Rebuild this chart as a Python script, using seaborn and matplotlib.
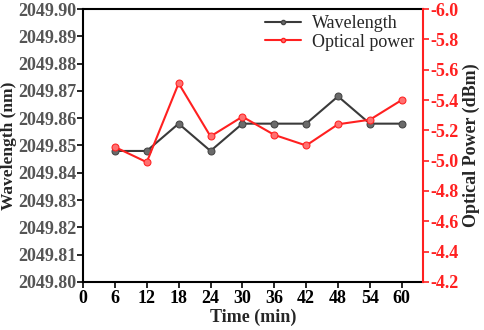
import numpy as np
import pandas as pd
import seaborn as sns
import matplotlib
matplotlib.use('Agg')
import matplotlib.pyplot as plt
from matplotlib.lines import Line2D

# data
time_min = [6, 12, 18, 24, 30, 36, 42, 48, 54, 60]
wavelength_nm = [2049.848, 2049.848, 2049.858, 2049.848, 2049.858,
                 2049.858, 2049.858, 2049.868, 2049.858, 2049.858]
optical_power_dbm = [-5.09, -4.99, -5.51, -5.16, -5.29,
                     -5.17, -5.10, -5.24, -5.27, -5.40]
x_ticks = [0, 6, 12, 18, 24, 30, 36, 42, 48, 54, 60]
wl_ticks = [2049.80, 2049.81, 2049.82, 2049.83, 2049.84, 2049.85,
            2049.86, 2049.87, 2049.88, 2049.89, 2049.90]
pw_ticks = [-4.2, -4.4, -4.6, -4.8, -5.0, -5.2, -5.4, -5.6, -5.8, -6.0]

sns.set_style('ticks')
plt.rcParams['font.family'] = ['Liberation Serif', 'DejaVu Serif']

df = pd.DataFrame({'Time': time_min, 'Wavelength': wavelength_nm,
                   'Power': optical_power_dbm})

fig = plt.figure(figsize=(4.84, 3.30), dpi=100)
ax = fig.add_axes([0.1715, 0.1455, 0.7025, 0.8272])
ax2 = ax.twinx()

black = '#3a3a3a'
red = '#ff2020'

sns.lineplot(data=df, x='Time', y='Wavelength', ax=ax, color=black,
             marker='o', markersize=5, linewidth=1.5,
             markeredgecolor='#444444', markerfacecolor='#6a6a6a')
sns.lineplot(data=df, x='Time', y='Power', ax=ax2, color=red,
             marker='o', markersize=5, linewidth=1.5,
             markeredgecolor=red, markerfacecolor='#ff7070')

ax.set_xlim(0, 64)
ax.set_ylim(2049.80, 2049.90)
ax2.set_ylim(-4.2, -6.0)
ax.set_xticks(x_ticks)
ax.set_yticks(wl_ticks)
ax2.set_yticks(pw_ticks)
ax.set_yticklabels([f'{v:.2f}' for v in wl_ticks])
ax2.set_yticklabels([f'{v:.1f}' for v in pw_ticks])

fs = 13
ax.set_xlabel('Time (min)', fontsize=fs, fontweight='bold', labelpad=1)
ax.set_ylabel('Wavelength (nm)', fontsize=12.5, fontweight='bold', labelpad=0)
ax.yaxis.set_label_coords(-0.193, 0.5)
ax2.set_ylabel('Optical Power (dBm)', fontsize=fs, fontweight='bold', labelpad=3)

ax.tick_params(axis='x', labelsize=fs, length=4, width=1.2, colors='black', pad=2)
ax.tick_params(axis='y', labelsize=fs, length=4, width=1.2, colors='black',
               labelcolor='#555555', pad=1)
ax2.tick_params(axis='y', labelsize=fs, length=4, width=1.2, colors=red,
                labelcolor=red, pad=1)
for lab in ax.get_xticklabels() + ax.get_yticklabels() + ax2.get_yticklabels():
    lab.set_fontweight('bold')

for sp in ['left', 'bottom', 'top']:
    ax.spines[sp].set_linewidth(1.5)
    ax.spines[sp].set_color('black')
ax.spines['right'].set_visible(False)
ax2.spines['right'].set_color(red)
ax2.spines['right'].set_linewidth(1.5)
for sp in ['left', 'bottom', 'top']:
    ax2.spines[sp].set_visible(False)

handles = [Line2D([], [], color=black, marker='o', markersize=3, linewidth=1.5,
                  markerfacecolor='#6a6a6a', markeredgecolor='#444444'),
           Line2D([], [], color=red, marker='o', markersize=3, linewidth=1.5,
                  markerfacecolor='#ff7070', markeredgecolor=red)]
ax.legend(handles, ['Wavelength', 'Optical power'], loc='upper right',
          frameon=False, fontsize=13, handlelength=2.0, handletextpad=0.6,
          labelspacing=0.1, borderaxespad=0.0, bbox_to_anchor=(0.995, 1.005))
if ax2.get_legend():
    ax2.get_legend().remove()

fig.savefig('out.png', dpi=100)
